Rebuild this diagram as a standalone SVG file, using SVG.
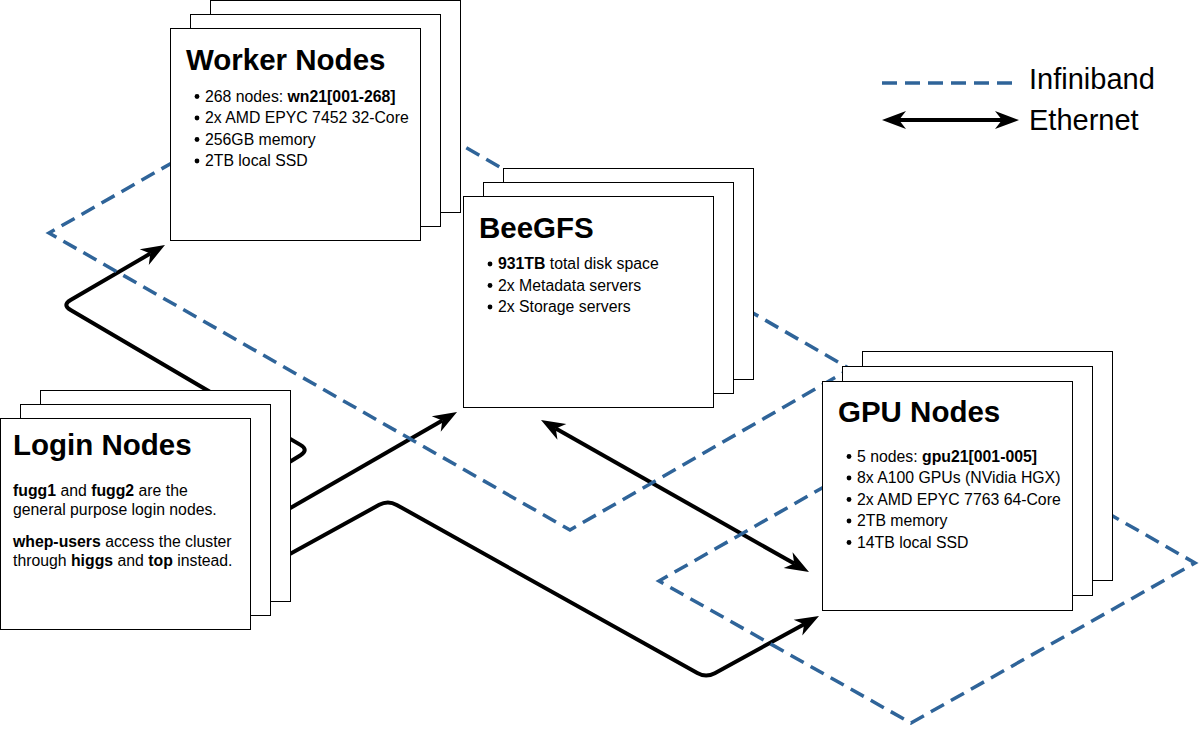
<svg xmlns="http://www.w3.org/2000/svg" width="1199" height="729" viewBox="0 0 1199 729">
<style>
.box{fill:#fff;stroke:#000;stroke-width:1}
.title{font-family:"Liberation Sans",Arial,sans-serif;font-size:29.5px;font-weight:bold;fill:#000}
.txt{font-family:"Liberation Sans",Arial,sans-serif;font-size:15.8px;fill:#000}
.b{font-weight:bold}
.dot{fill:#000}
.eth{fill:none;stroke:#000;stroke-width:4;stroke-linejoin:round}
.ib{fill:none;stroke:#2f6499;stroke-width:3.5;stroke-dasharray:15 8}
.leg{font-family:"Liberation Sans",Arial,sans-serif;font-size:29px;fill:#000}
</style>
<defs>
<marker id="arr" markerUnits="userSpaceOnUse" markerWidth="30" markerHeight="24" viewBox="-8 -12 30 24" refX="0" refY="0" orient="auto-start-reverse">
<path d="M17,0 L-7,-9 L0,0 L-7,9 Z" fill="#000"/>
</marker>
</defs>
<rect width="1199" height="729" fill="#fff"/>

<g id="connectors">
<g id="ethernet">
<path class="eth" d="M270,474 L300.5,455.2 Q309,450 300.4,444.9 L70.6,310.1 Q62,305 70.6,300 L150.3,253.6" marker-end="url(#arr)"/>
<path class="eth" d="M240,537 L442.3,420.5" marker-end="url(#arr)"/>
<path class="eth" d="M240,581.5 L379.2,504.8 Q388,500 396.7,504.9 L697.3,673.1 Q706,678 714.8,673.2 L804.1,624.2" marker-end="url(#arr)"/>
<path class="eth" d="M555.8,428.4 L794.2,563.6" marker-start="url(#arr)" marker-end="url(#arr)"/>
</g>
<g id="infiniband">
<path class="ib" stroke-dashoffset="1.5" d="M333,71 L49,233 L570,530 L850,369 Z"/>
<path class="ib" stroke-dashoffset="5" d="M943,419 L659,581 L911,723 L1195,563 Z"/>
</g>
</g>

<g id="worker-nodes">
<rect class="box" x="210.5" y="0.5" width="250" height="212"/>
<rect class="box" x="190.5" y="14.5" width="250" height="212"/>
<rect class="box" x="170.5" y="28.5" width="250" height="212"/>
<text class="title" x="186" y="70">Worker Nodes</text>
<circle class="dot" cx="197" cy="96.5" r="2.4"/>
<circle class="dot" cx="197" cy="118" r="2.4"/>
<circle class="dot" cx="197" cy="139.5" r="2.4"/>
<circle class="dot" cx="197" cy="161" r="2.4"/>
<text class="txt" x="205" y="101.5">268 nodes: <tspan class="b">wn21[001-268]</tspan></text>
<text class="txt" x="205" y="123">2x AMD EPYC 7452 32-Core</text>
<text class="txt" x="205" y="144.5">256GB memory</text>
<text class="txt" x="205" y="166">2TB local SSD</text>
</g>

<g id="beegfs">
<rect class="box" x="503.5" y="168.5" width="250" height="211"/>
<rect class="box" x="483.5" y="182.5" width="250" height="211"/>
<rect class="box" x="463.5" y="196.5" width="250" height="211"/>
<text class="title" x="479" y="238">BeeGFS</text>
<circle class="dot" cx="490" cy="264" r="2.4"/>
<circle class="dot" cx="490" cy="285.5" r="2.4"/>
<circle class="dot" cx="490" cy="307" r="2.4"/>
<text class="txt" x="498" y="269"><tspan class="b">931TB</tspan> total disk space</text>
<text class="txt" x="498" y="290.5">2x Metadata servers</text>
<text class="txt" x="498" y="312">2x Storage servers</text>
</g>

<g id="gpu-nodes">
<rect class="box" x="862.5" y="351.5" width="250" height="229"/>
<rect class="box" x="842.5" y="366.5" width="250" height="229"/>
<rect class="box" x="822.5" y="381.5" width="250" height="229"/>
<text class="title" x="838" y="422">GPU Nodes</text>
<circle class="dot" cx="849" cy="456.5" r="2.4"/>
<circle class="dot" cx="849" cy="478" r="2.4"/>
<circle class="dot" cx="849" cy="499.5" r="2.4"/>
<circle class="dot" cx="849" cy="521" r="2.4"/>
<circle class="dot" cx="849" cy="542.5" r="2.4"/>
<text class="txt" x="857" y="461.5">5 nodes: <tspan class="b">gpu21[001-005]</tspan></text>
<text class="txt" x="857" y="483">8x A100 GPUs (NVidia HGX)</text>
<text class="txt" x="857" y="504.5">2x AMD EPYC 7763 64-Core</text>
<text class="txt" x="857" y="526">2TB memory</text>
<text class="txt" x="857" y="547.5">14TB local SSD</text>
</g>

<g id="login-nodes">
<rect class="box" x="40.5" y="390.5" width="250" height="211"/>
<rect class="box" x="20.5" y="404.5" width="250" height="211"/>
<rect class="box" x="0.5" y="418.5" width="250" height="211"/>
<text class="title" x="13" y="455">Login Nodes</text>
<text class="txt" x="13" y="495.5"><tspan class="b">fugg1</tspan> and <tspan class="b">fugg2</tspan> are the</text>
<text class="txt" x="13" y="514.5">general purpose login nodes.</text>
<text class="txt" x="13" y="546.5"><tspan class="b">whep-users</tspan> access the cluster</text>
<text class="txt" x="13" y="565.5">through <tspan class="b">higgs</tspan> and <tspan class="b">top</tspan> instead.</text>
</g>

<g id="legend">
<line class="ib" x1="882" y1="83" x2="1018" y2="83"/>
<text class="leg" x="1029" y="89">Infiniband</text>
<line class="eth" x1="899" y1="120" x2="1002" y2="120" marker-start="url(#arr)" marker-end="url(#arr)"/>
<text class="leg" x="1029" y="130">Ethernet</text>
</g>
</svg>
